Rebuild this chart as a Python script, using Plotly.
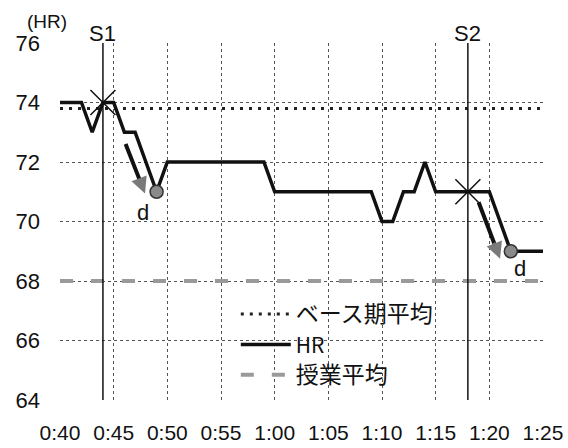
import plotly.graph_objects as go

# ---- data ----
minutes = list(range(40, 86))
hr = [74, 74, 74, 73, 74, 74, 73, 73, 72, 71,
      72, 72, 72, 72, 72, 72, 72, 72, 72, 72,
      71, 71, 71, 71, 71, 71, 71, 71, 71, 71,
      70, 70, 71, 71, 72, 71, 71, 71, 71, 71,
      71, 70, 69, 69, 69, 69]
base_avg = 73.8
class_avg = 68.0
stim_names = ["S1", "S2"]
stim_times = [44, 78]
d_times = [49, 82]
tick_vals = [40, 45, 50, 55, 60, 65, 70, 75, 80, 85]
tick_text = ["0:40", "0:45", "0:50", "0:55", "1:00", "1:05", "1:10", "1:15", "1:20", "1:25"]
y_ticks = [64, 66, 68, 70, 72, 74, 76]

hr_at = dict(zip(minutes, hr))
JP = "Noto Sans CJK JP, Liberation Sans, Arial"
LAT = "Liberation Sans, Arial"

def jp(s):
    return '<span style="font-size:23px">' + s + '</span>'

fig = go.Figure()

fig.add_trace(go.Scatter(
    x=[minutes[0], minutes[-1]], y=[base_avg, base_avg], mode="lines",
    name=jp("ベース期平均"), line=dict(color="#222222", width=3, dash="3px,6px")))
fig.add_trace(go.Scatter(
    x=minutes, y=hr, mode="lines",
    name="HR",
    line=dict(color="#111111", width=3.5)))
fig.add_trace(go.Scatter(
    x=[minutes[0], minutes[-1]], y=[class_avg, class_avg], mode="lines",
    name=jp("授業平均"), line=dict(color="#9a9a9a", width=4, dash="13px,18px")))

# d markers (circles)
fig.add_trace(go.Scatter(
    x=d_times, y=[hr_at[t] for t in d_times], mode="markers", showlegend=False,
    marker=dict(size=13, color="#8a8a8a", line=dict(color="#333333", width=1.5))))

# stimulus vertical lines
for t in stim_times:
    fig.add_vline(x=t, line=dict(color="#111111", width=1.5))

# crosses at stimulus times
fig.add_trace(go.Scatter(
    x=stim_times, y=[hr_at[t] for t in stim_times], mode="markers", showlegend=False,
    marker=dict(symbol="x-thin", size=25, line=dict(color="#111111", width=1.5))))

# S labels
for name, t in zip(stim_names, stim_times):
    fig.add_annotation(x=t, y=1.028, xref="x", yref="paper", text=name, showarrow=False,
                       font=dict(family=LAT, size=22, color="#111"), xanchor="center", yanchor="middle")

fig.add_annotation(x=-0.027, y=1.059, xref="paper", yref="paper", text="(HR)", showarrow=False,
                   font=dict(family=LAT, size=19, color="#111"), xanchor="center", yanchor="middle")

# arrows and d labels
arrows = [((47.92, 70.94), (-20, -51), (47.7, 70.3)),
          ((81.0, 68.75), (-22, -58), (82.87, 68.42))]
for (tx, ty), (ax, ay), (dx, dy) in arrows:
    fig.add_annotation(x=tx, y=ty, ax=ax, ay=ay, axref="pixel", ayref="pixel", text="",
                       showarrow=True, arrowhead=0, arrowwidth=4, arrowcolor="#111", standoff=12)
    fig.add_annotation(x=tx, y=ty, ax=ax * 0.3, ay=ay * 0.3, axref="pixel", ayref="pixel", text="",
                       showarrow=True, arrowhead=2, arrowsize=1.3, arrowwidth=2.5, arrowcolor="#7a7a7a")
    fig.add_annotation(x=dx, y=dy, text="d", showarrow=False,
                       font=dict(family=LAT, size=22, color="#111"))

# white legend box (hides gridlines behind the legend)
fig.add_shape(type="rect", xref="paper", yref="paper", x0=0.321, x1=0.8385, y0=0.02, y1=0.2885,
              fillcolor="white", line=dict(width=0), layer="between")

grid = dict(showgrid=True, gridcolor="#555555", gridwidth=1, griddash="dot",
            zeroline=False, showline=False, ticks="", automargin=False)

fig.update_xaxes(range=[40, 85], tickmode="array", tickvals=tick_vals, ticktext=tick_text,
                 tickfont=dict(family=LAT, size=21, color="#111"), ticklabelstandoff=18, **grid)
fig.update_yaxes(range=[64, 76], tickmode="array", tickvals=y_ticks,
                 tickfont=dict(family=LAT, size=22, color="#111"), ticklabelstandoff=19, **grid)

fig.update_layout(
    width=568, height=448, autosize=False,
    margin=dict(l=60, r=25, t=43, b=48, autoexpand=False),
    plot_bgcolor="white", paper_bgcolor="white",
    legend=dict(x=0.364, y=0.297, xanchor="left", yanchor="top",
                bgcolor="rgba(255,255,255,0)", borderwidth=0, itemwidth=50,
                font=dict(family=JP, size=21, color="#111"),
                tracegroupgap=0),
)

fig.write_html("out.html", config={"displayModeBar": False},
               post_script="document.body.style.margin='0';document.body.style.overflow='hidden';")
